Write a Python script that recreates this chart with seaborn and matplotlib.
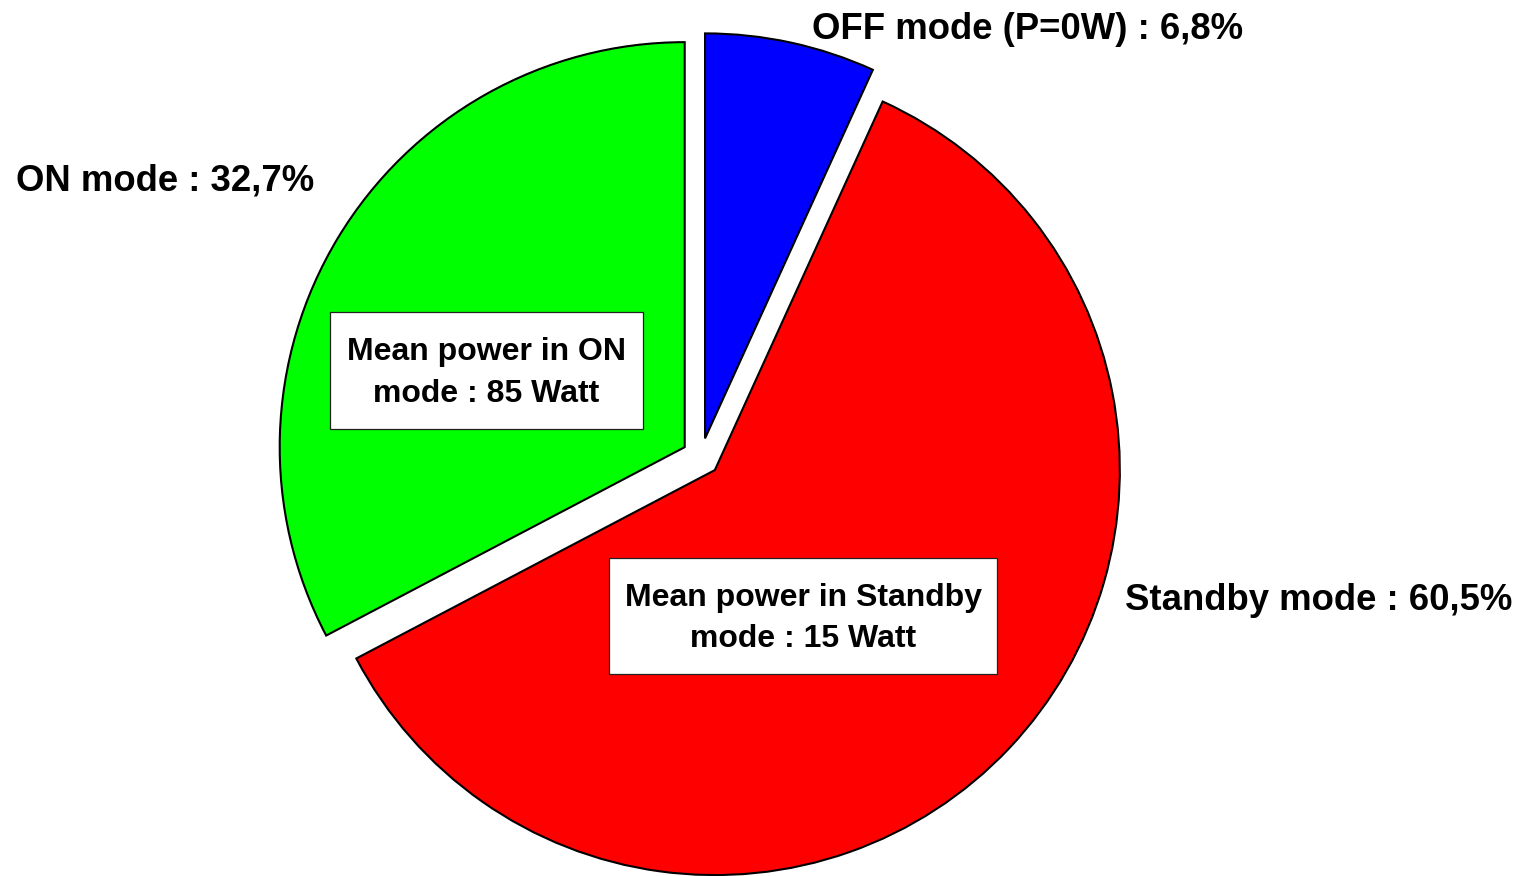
import matplotlib
matplotlib.use("Agg")
import matplotlib.pyplot as plt
from matplotlib.patches import Rectangle
import seaborn as sns

# ---- data ----
modes = ["OFF mode (P=0W)", "Standby mode", "ON mode"]
shares = [6.8, 60.5, 32.7]
colors = ["#0000FF", "#FF0000", "#00FF00"]
box_modes = ["ON", "Standby"]
mean_power = [85, 15]

sns.set_theme(style="white")
plt.rcParams["font.family"] = ["Liberation Sans", "DejaVu Sans"]
plt.rcParams["font.weight"] = "bold"

W, H, DPI = 1526, 876, 100
fig = plt.figure(figsize=(W / DPI, H / DPI), dpi=DPI)
ax = fig.add_axes([0, 0, 1, 1])

R = 405.0          # pie radius in pixels
cx, cy = 701.0, 457.0  # pie centre in image pixels (y from top)

wedges, _ = ax.pie(
    shares,
    colors=colors,
    startangle=90,
    counterclock=False,
    explode=[0.047] * len(shares),
    radius=1.0,
    wedgeprops=dict(edgecolor="black", linewidth=1.5),
)

ax.set_xlim(-cx / R, (W - cx) / R)
ax.set_ylim(-(H - cy) / R, cy / R)
ax.axis("off")


def px(x, y):
    return ((x - cx) / R, (cy - y) / R)


def fmt(v):
    return f"{v:.1f}".replace(".", ",")


# outside labels (left x, baseline y in pixels)
label_pos = [(812, 39), (1125, 610), (16, 190)]
for name, val, (lx, ly) in zip(modes, shares, label_pos):
    x, y = px(lx, ly)
    ax.text(x, y, f"{name} : {fmt(val)}%", ha="left", va="baseline",
            fontsize=26.3, fontweight="bold", color="black")

# boxes with mean power: (left, top, right, bottom) in pixels
box_rects = [(330, 312, 643, 429), (609, 558, 997, 674)]
for m, p, (l, t, r, b) in zip(box_modes, mean_power, box_rects):
    x0, y0 = px(l, b)
    x1, y1 = px(r, t)
    ax.add_patch(Rectangle((x0, y0), x1 - x0, y1 - y0, facecolor="white",
                           edgecolor="#222222", linewidth=0.9, zorder=3))
    xc, yc = px((l + r) / 2, (t + b) / 2 + 2.5)
    ax.text(xc, yc, f"Mean power in {m}\nmode : {p} Watt", ha="center", va="center",
            multialignment="center", fontsize=23, fontweight="bold",
            linespacing=1.5, color="black", zorder=4)

fig.savefig("out.png", dpi=DPI, facecolor="white")
